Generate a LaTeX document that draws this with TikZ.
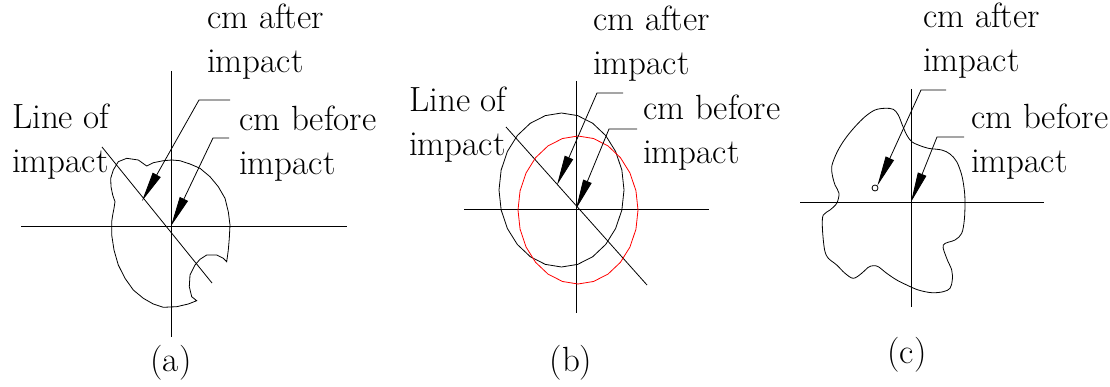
\documentclass[tikz,border=0pt]{standalone}
\usepackage{fontspec}
\usetikzlibrary{arrows.meta}
\begin{document}
\begin{tikzpicture}[x=1pt,y=-1pt,
  lbl/.style={font=\rmfamily\fontsize{35}{44}\selectfont\addfontfeatures{LetterSpace=-5,WordSpace=0.25,FakeBold=0.4}, align=left, inner sep=0pt, anchor=base west},
  figcap/.style={font=\rmfamily\fontsize{35}{44}\selectfont\addfontfeatures{FakeBold=0.4}, inner sep=0pt, anchor=base},
  thin/.style={line width=0.8pt},
  leader/.style={line width=0.8pt, -{Triangle[length=30pt,width=9pt]}},
  redc/.style={line width=0.8pt, draw=red}
  ]
\useasboundingbox (0,0) rectangle (1110,387);

% ---------------- panel (a)
\coordinate (a-o) at (171,226);
\coordinate (a-v1) at (171,71);  \coordinate (a-v2) at (171,337);
\coordinate (a-h1) at (21,226);  \coordinate (a-h2) at (347,226);
\coordinate (a-d1) at (102,147); \coordinate (a-d2) at (212,283);
\draw[thin] (a-v1) -- (a-v2);
\draw[thin] (a-h1) -- (a-h2);
\draw[thin] (a-d1) -- (a-d2);
\draw[thin] (196.7,300.7) -- (188.3,304) -- (176.7,306.7) -- (163.3,307.3) -- (153.3,304) -- (143.3,298.3) -- (133.3,290) -- (125,278.3) -- (118.3,265) -- (114,250) -- (111.7,235) -- (111.7,221.7) -- (112.7,215) -- (114,208.3) -- (115,201.7) -- (112.7,195) -- (111,186.7) -- (110.7,178.3) -- (113.3,170) -- (118.3,161.7) -- (126.7,158.3) -- (138.3,160) -- (146.7,166) -- (153.3,162.7) -- (163.3,160.7) -- (171.7,160) -- (180,160.7) -- (190,164) -- (200,168.3) -- (210,176.7) -- (218.3,186.7) -- (225,198.3) -- (228.3,211.7) -- (230,225) -- (229.3,238.3) -- (228.3,250) -- (226.7,261.7) -- (223.3,258.3) -- (216.7,255) -- (206.7,255) -- (200,259.3) -- (195,265) -- (190,275) -- (189.3,286.7) -- (191.7,296.7) -- cycle;
\node[lbl] (a-line) at (12,173) {Line of\\impact};
\node[lbl] (a-after) at (207,73) {cm after\\impact};
\node[lbl] (a-before) at (239,175) {cm before\\impact};
\node[figcap] (a-cap) at (171,371) {(a)};
\coordinate (a-as) at (230,100); \coordinate (a-ak) at (199,100); \coordinate (a-g) at (142,201);
\coordinate (a-bs) at (229,138); \coordinate (a-bk) at (213,138);
\draw[leader] (a-as) -- (a-ak) -- (a-g);
\draw[leader] (a-bs) -- (a-bk) -- (a-o);

% ---------------- panel (b)
\coordinate (b-o) at (576,209);
\coordinate (b-v1) at (576,81);  \coordinate (b-v2) at (576,313);
\coordinate (b-h1) at (464,209); \coordinate (b-h2) at (709,209);
\coordinate (b-d1) at (506,127); \coordinate (b-d2) at (647,285);
\draw[thin] (b-v1) -- (b-v2);
\draw[thin] (b-h1) -- (b-h2);
\draw[thin] (b-d1) -- (b-d2);
\draw[thin] plot[samples=25,domain=0:360] ({561.5+62.5*cos(\x)},{190+77*sin(\x)}) -- cycle;
\draw[redc] plot[samples=25,domain=0:360] ({578+60*cos(\x)},{210+74*sin(\x)}) -- cycle;
\node[lbl] (b-line) at (409,156) {Line of\\impact};
\node[lbl] (b-after) at (593,75) {cm after\\impact};
\node[lbl] (b-before) at (643,164) {cm before\\impact};
\node[figcap] (b-cap) at (571,371) {(b)};
\coordinate (b-as) at (623,93); \coordinate (b-ak) at (597,93); \coordinate (b-g) at (557,185);
\coordinate (b-bs) at (637,129); \coordinate (b-bk) at (609,129);
\draw[leader] (b-as) -- (b-ak) -- (b-g);
\draw[leader] (b-bs) -- (b-bk) -- (b-o);

% ---------------- panel (c)
\coordinate (c-o) at (911,202);
\coordinate (c-v1) at (911,89);  \coordinate (c-v2) at (911,307);
\coordinate (c-h1) at (800,202); \coordinate (c-h2) at (1044,202);
\draw[thin] (c-v1) -- (c-v2);
\draw[thin] (c-h1) -- (c-h2);
\draw[thin] plot[smooth cycle, tension=0.55] coordinates {(875,110) (885,108.3) (893.3,109.3) (898.3,115) (902.3,125) (906.7,135) (911.7,141.7) (918.3,145) (928.3,148.3) (941.7,150) (950,154) (956.7,161.7) (961.7,175) (964.3,190) (965,203.3) (964.3,220) (961.7,233.3) (955,240) (943.3,245) (946.7,258.3) (951.7,270) (952.3,280) (950,288.3) (943.3,291.7) (931.7,292.7) (918.3,290) (906.7,285) (896.7,280) (886.7,273.3) (878.3,266.7) (873.3,265.7) (868.3,267.3) (861.7,273.3) (853.3,278.3) (845,273.3) (836.7,265) (828.3,258.3) (825,251.7) (823.3,240) (822.3,225) (823.3,215) (830,210) (836.7,203.3) (839,193.3) (835,185) (832.3,175) (831.7,166.7) (835,156.7) (840,146.7) (846.7,136.7) (855,126.7) (865,116.7)};
\node[circle, draw, line width=0.8pt, minimum size=6pt, inner sep=0pt] (c-m) at (875,188) {};
\node[lbl] (c-after) at (923,72) {cm after\\impact};
\node[lbl] (c-before) at (971,173) {cm before\\impact};
\node[figcap] (c-cap) at (907,363) {(c)};
\coordinate (c-as) at (946,90); \coordinate (c-ak) at (921,90);
\coordinate (c-bs) at (964,137); \coordinate (c-bk) at (937,137);
\draw[leader] (c-as) -- (c-ak) -- (c-m.north east);
\draw[leader] (c-bs) -- (c-bk) -- (c-o);
\end{tikzpicture}
\end{document}
